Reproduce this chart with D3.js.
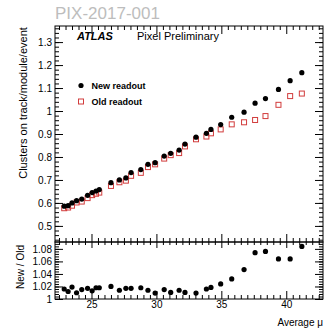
<!DOCTYPE html>
<html><head><meta charset="utf-8">
<script src="https://cdn.jsdelivr.net/npm/d3@7/dist/d3.min.js"></script>
<style>
body{margin:0;background:#fff;}
svg{display:block;font-family:"Liberation Sans",Arial,Helvetica,sans-serif;}
</style></head>
<body><svg id="c" width="336" height="330"></svg>
<script>
const mu = [22.9, 23.2, 23.5, 23.85, 24.25, 24.7, 25.05, 25.35, 25.6, 26.5, 27.15, 27.65, 28.05, 28.8, 29.35, 29.9, 30.6, 31.1, 31.75, 32.2, 33.05, 33.85, 34.2, 34.95, 35.8, 36.75, 37.6, 38.4, 39.4, 40.3, 41.2];
const newReadout = [0.586, 0.588, 0.600, 0.610, 0.617, 0.633, 0.645, 0.652, 0.658, 0.688, 0.700, 0.709, 0.732, 0.745, 0.768, 0.775, 0.804, 0.816, 0.830, 0.856, 0.886, 0.903, 0.920, 0.941, 0.973, 0.995, 1.034, 1.054, 1.094, 1.132, 1.167];
const oldReadout = [0.577, 0.580, 0.588, 0.602, 0.606, 0.621, 0.634, 0.640, 0.645, 0.674, 0.690, 0.697, 0.718, 0.731, 0.756, 0.768, 0.793, 0.808, 0.817, 0.846, 0.877, 0.889, 0.903, 0.920, 0.942, 0.951, 0.961, 0.978, 1.027, 1.065, 1.076];
const ratio = [1.016, 1.012, 1.019, 1.010, 1.015, 1.017, 1.013, 1.018, 1.018, 1.020, 1.014, 1.017, 1.017, 1.018, 1.014, 1.0095, 1.015, 1.0105, 1.014, 1.0105, 1.0095, 1.016, 1.0185, 1.024, 1.032, 1.047, 1.074, 1.076, 1.064, 1.064, 1.084];
const xTicks = [25, 30, 35, 40];
const yTopTicks = [0.5, 0.6, 0.7, 0.8, 0.9, 1.0, 1.1, 1.2, 1.3];
const yBotTicks = [1.0, 1.02, 1.04, 1.06, 1.08];

const svg = d3.select("#c");
const L = 55, R = 323, T = 26, M = 242, B = 299;
const x = d3.scaleLinear().domain([22.19, 42.83]).range([L, R]);
const yT = d3.scaleLinear().domain([0.43, 1.37]).range([M, T]);
const yB = d3.scaleLinear().domain([1.0, 1.091]).range([B, M]);

const range = (a, b, s) => { const o = []; for (let v = a; v <= b + 1e-9; v += s) o.push(+v.toFixed(4)); return o; };
const xMinor = range(22.5, 42.5, 0.5).filter(v => !xTicks.includes(v));
const yTopMinor = range(0.44, 1.36, 0.02);
const yBotMinor = range(1.0, 1.088, 0.004);

function ax(g, axis) {
  g.call(axis);
  g.select(".domain").remove();
  g.selectAll("line").attr("stroke", "#000").attr("stroke-width", 1);
  g.selectAll("text").attr("fill", "#000");
}
const MAJ = 8, MIN = 4;
// top panel
ax(svg.append("g").attr("transform", `translate(${L},0)`).attr("font-size", 10),
   d3.axisLeft(yT).tickValues(yTopTicks).tickSize(-MAJ).tickPadding(3).tickFormat(d3.format("")));
ax(svg.append("g").attr("transform", `translate(${L},0)`), d3.axisLeft(yT).tickValues(yTopMinor).tickSize(-MIN).tickFormat(""));
ax(svg.append("g").attr("transform", `translate(${R},0)`), d3.axisRight(yT).tickValues(yTopTicks).tickSize(-MAJ).tickFormat(""));
ax(svg.append("g").attr("transform", `translate(${R},0)`), d3.axisRight(yT).tickValues(yTopMinor).tickSize(-MIN).tickFormat(""));
ax(svg.append("g").attr("transform", `translate(0,${T})`), d3.axisTop(x).tickValues(xTicks).tickSize(-MAJ).tickFormat(""));
ax(svg.append("g").attr("transform", `translate(0,${T})`), d3.axisTop(x).tickValues(xMinor).tickSize(-MIN).tickFormat(""));
ax(svg.append("g").attr("transform", `translate(0,${M})`), d3.axisBottom(x).tickValues(xTicks).tickSize(-MAJ).tickFormat(""));
ax(svg.append("g").attr("transform", `translate(0,${M})`), d3.axisBottom(x).tickValues(xMinor).tickSize(-MIN).tickFormat(""));
// bottom panel
ax(svg.append("g").attr("transform", `translate(${L},0)`).attr("font-size", 9),
   d3.axisLeft(yB).tickValues(yBotTicks).tickSize(-MAJ).tickPadding(3).tickFormat(d => d === 1 ? "1" : d.toFixed(2)));
ax(svg.append("g").attr("transform", `translate(${L},0)`), d3.axisLeft(yB).tickValues(yBotMinor).tickSize(-MIN).tickFormat(""));
ax(svg.append("g").attr("transform", `translate(${R},0)`), d3.axisRight(yB).tickValues(yBotTicks).tickSize(-MAJ).tickFormat(""));
ax(svg.append("g").attr("transform", `translate(${R},0)`), d3.axisRight(yB).tickValues(yBotMinor).tickSize(-MIN).tickFormat(""));
ax(svg.append("g").attr("transform", `translate(0,${M})`), d3.axisTop(x).tickValues(xTicks).tickSize(-MAJ + 2).tickFormat(""));
ax(svg.append("g").attr("transform", `translate(0,${M})`), d3.axisTop(x).tickValues(xMinor).tickSize(-MIN + 1).tickFormat(""));
ax(svg.append("g").attr("transform", `translate(0,${B})`).attr("font-size", 9.5),
   d3.axisBottom(x).tickValues(xTicks).tickSize(-MAJ).tickPadding(2).tickFormat(d3.format("")));
ax(svg.append("g").attr("transform", `translate(0,${B})`), d3.axisBottom(x).tickValues(xMinor).tickSize(-MIN).tickFormat(""));

// frames
svg.append("rect").attr("x", L).attr("y", T).attr("width", R - L).attr("height", M - T).attr("fill", "none").attr("stroke", "#000");
svg.append("rect").attr("x", L).attr("y", M).attr("width", R - L).attr("height", B - M).attr("fill", "none").attr("stroke", "#000");

const red = "#d23c3c";
// old readout squares
svg.append("g").selectAll("rect").data(mu).join("rect")
  .attr("x", (d, i) => x(d) - 2.5).attr("y", (d, i) => yT(oldReadout[i]) - 2.5)
  .attr("width", 5).attr("height", 5).attr("fill", "none").attr("stroke", red).attr("stroke-width", 1);
// new readout dots
svg.append("g").selectAll("circle").data(mu).join("circle")
  .attr("cx", d => x(d)).attr("cy", (d, i) => yT(newReadout[i])).attr("r", 2.6).attr("fill", "#000");
// ratio
svg.append("g").selectAll("circle").data(mu).join("circle")
  .attr("cx", d => x(d)).attr("cy", (d, i) => yB(ratio[i])).attr("r", 2.6).attr("fill", "#000");

// texts
svg.append("text").attr("x", 55).attr("y", 19).attr("font-size", 17).attr("fill", "#bdbdbd").text("PIX-2017-001");
svg.append("text").attr("x", 77).attr("y", 39.5).attr("font-size", 11).attr("font-weight", "bold").attr("font-style", "italic").text("ATLAS");
svg.append("text").attr("x", 137).attr("y", 39.5).attr("font-size", 11).text("Pixel Preliminary");

// legend
svg.append("circle").attr("cx", 81).attr("cy", 85.5).attr("r", 2.6).attr("fill", "#000");
svg.append("text").attr("x", 91.5).attr("y", 88.5).attr("font-size", 9).attr("font-weight", "bold").text("New readout");
svg.append("rect").attr("x", 78.5).attr("y", 99).attr("width", 5).attr("height", 5).attr("fill", "none").attr("stroke", red);
svg.append("text").attr("x", 91.5).attr("y", 104.5).attr("font-size", 9).attr("font-weight", "bold").text("Old readout");

// axis titles
svg.append("text").attr("transform", "translate(27,103) rotate(-90)").attr("text-anchor", "middle").attr("font-size", 11).text("Clusters on track/module/event");
svg.append("text").attr("transform", "translate(24,267) rotate(-90)").attr("text-anchor", "middle").attr("font-size", 10).text("New / Old");
svg.append("text").attr("x", 323).attr("y", 326).attr("text-anchor", "end").attr("font-size", 10).text("Average \u03bc");
</script></body></html>
